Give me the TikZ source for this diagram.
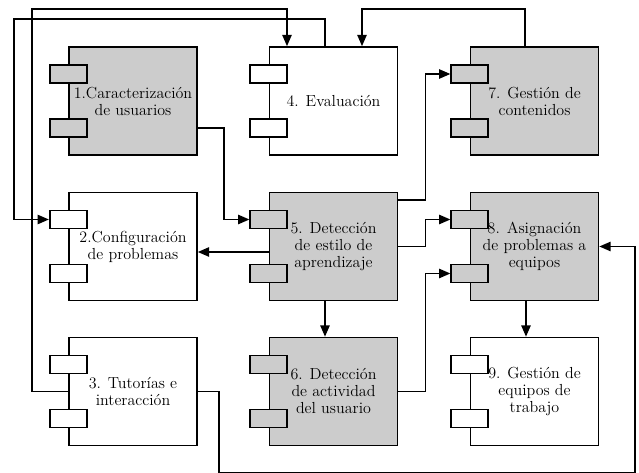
\documentclass[tikz,border=0pt]{standalone}
\usepackage{tikz}
\usetikzlibrary{calc}
\usetikzlibrary{arrows.meta}
\definecolor{boxgray}{HTML}{CCCCCC}

\begin{document}
\begin{tikzpicture}[x=0.75pt, y=-0.75pt,
  module/.style={draw, line width=1.2pt, minimum width=96pt, minimum height=81pt,
    inner sep=0pt, align=center, font=\fontsize{12}{12.75}\selectfont},
  part/.style={draw, line width=1.2pt, minimum width=27.75pt, minimum height=13.5pt, inner sep=0pt},
  flow/.style={line width=1.2pt, -{Triangle[length=8.5pt, width=7pt]}}]

\useasboundingbox (0,0) rectangle (639,473);

% Modules
\node [module, fill=boxgray] (n1) at (133,101) {1.Caracterización\\de usuarios};
\node [module] (n4) at (333.5,101) {4. Evaluación};
\node [module, fill=boxgray] (n7) at (534.5,101) {7. Gestión de\\contenidos};

\node [module] (n2) at (133,246.5) {2.Configuración\\de problemas};
\node [module, fill=boxgray] (n5) at (333.5,246.5) {5. Detección\\de estilo de\\aprendizaje};
\node [module, fill=boxgray] (n8) at (534.5,246.5) {8. Asignación\\de problemas a\\equipos};

\node [module] (n3) at (133,391.5) {3. Tutorías e\\interacción};
\node [module, fill=boxgray] (n6) at (333.5,391.5) {6. Detección\\de actividad\\del usuario};
\node [module] (n9) at (534.5,391.5) {9. Gestión de\\equipos de\\trabajo};

% Component tabs
\foreach \n/\c in {n1/boxgray, n2/white, n3/white, n4/white, n5/boxgray,
                   n6/boxgray, n7/boxgray, n8/boxgray, n9/white} {
  \node [part, fill=\c] (\n a) at ([yshift=20.25pt]\n.west) {};
  \node [part, fill=\c] (\n b) at ([yshift=-20.25pt]\n.west) {};
}

% Rails
\coordinate (railA) at (32,9);
\coordinate (railB) at (14,19);
\coordinate (railC) at (525,9);
\coordinate (railD) at (635,472.5);

% Connectors
\draw [flow] ([yshift=-20.25pt]n1.east) -- ++(26,0) |- (n5a.west);
\draw [flow] (n3.west) -| (railA) -| ([xshift=-34.875pt]n4.north);
\draw [flow] ([xshift=-6.375pt]n4.north) |- (railB) |- (n2a.west);
\draw [flow] ([xshift=-7.125pt]n7.north) -- (railC) -| ([xshift=21.375pt]n4.north);

\draw [flow] ([yshift=34.875pt]n5.east) -- ++(27,0) |- (n7a.west);
\draw [flow] (n5.east) -- ++(27,0) |- (n8a.west);
\draw [flow] ([yshift=-4.125pt]n5.west) -- ([yshift=-4.125pt]n2.east);
\draw [flow] ([xshift=-6.375pt]n5.south) -- ([xshift=-6.375pt]n6.north);

\draw [flow] (n6.east) -- ++(27,0) |- (n8b.west);
\draw [flow] ([xshift=-6.375pt]n8.south) -- ([xshift=-6.375pt]n9.north);
\draw [flow] (n3.east) -- ++(21,0) |- (railD) |- (n8.east);

\end{tikzpicture}
\end{document}
